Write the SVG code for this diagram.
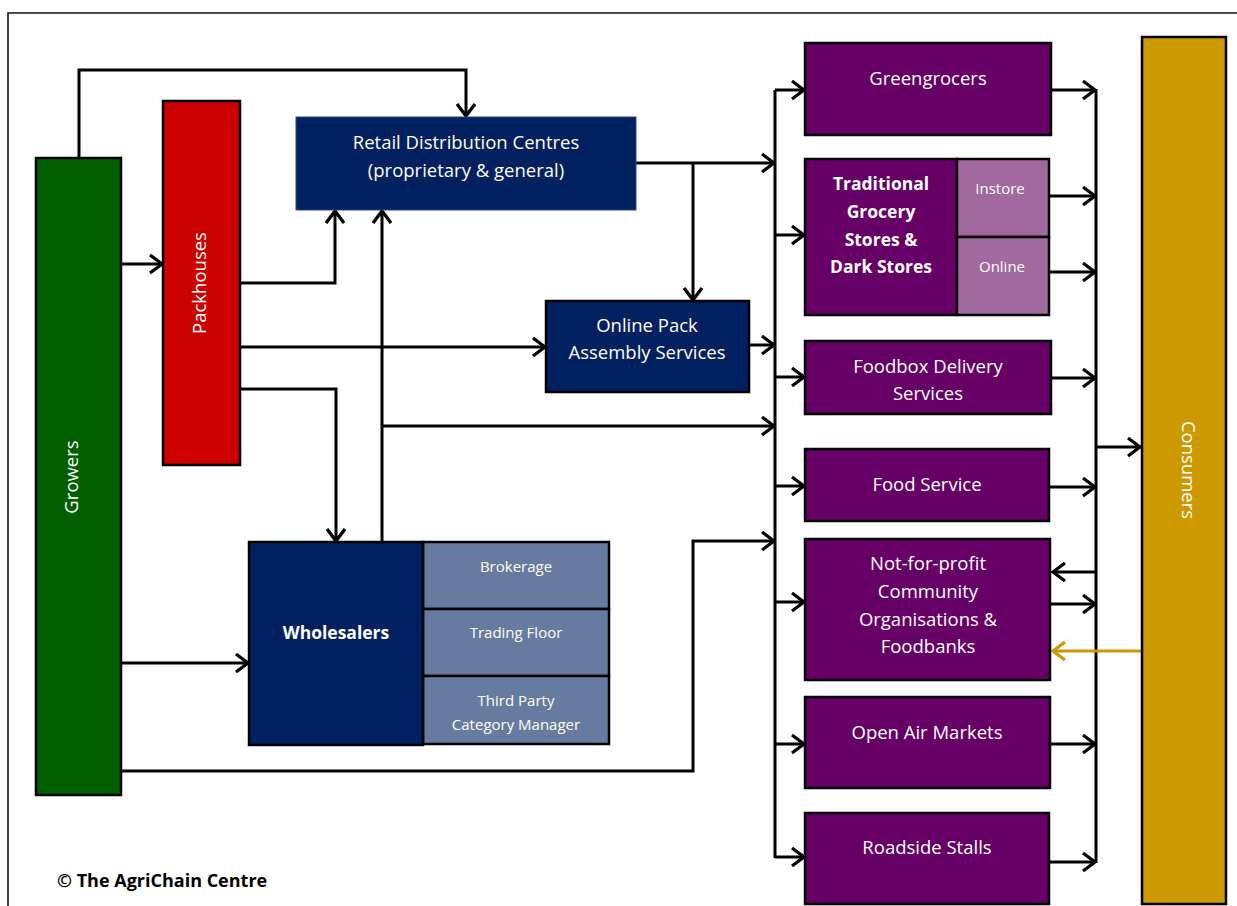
<svg xmlns="http://www.w3.org/2000/svg" width="1237" height="906" viewBox="0 0 1237 906">
<defs>
<style>
.box{stroke:#000;stroke-width:2.5}
.t{font-family:"Open Sans",Lato,"Liberation Sans",sans-serif;font-size:18.5px;fill:#fff;text-anchor:middle}
.s{font-size:15px}
.b{font-weight:bold;font-size:17.5px}
.c{fill:none;stroke:#000;stroke-width:3}
.ca{marker-end:url(#ah)}
.gold{fill:none;stroke:#CC9900;stroke-width:3;marker-end:url(#ahg)}
</style>
<marker id="ah" viewBox="-15 -12 17 24" refX="0" refY="0" markerWidth="17" markerHeight="24" markerUnits="userSpaceOnUse" orient="auto">
<path d="M-12,-9 L0,0 L-12,9" fill="none" stroke="#000" stroke-width="3.3"/>
</marker>
<marker id="ahg" viewBox="-15 -12 17 24" refX="0" refY="0" markerWidth="17" markerHeight="24" markerUnits="userSpaceOnUse" orient="auto">
<path d="M-12,-9 L0,0 L-12,9" fill="none" stroke="#CC9900" stroke-width="3.3"/>
</marker>
</defs>
<rect width="1237" height="906" fill="#fff"/>
<path d="M8,910 L8,13 L1240,13" fill="none" stroke="#111" stroke-width="1.6"/>

<g id="connectors">
<path class="c ca" d="M79,158 L79,70 L466,70 L466,116"/>
<path class="c ca" d="M121,264 L162,264"/>
<path class="c ca" d="M240,283 L335,283 L335,211"/>
<path class="c ca" d="M240,347 L545,347"/>
<path class="c ca" d="M240,389 L336,389 L336,541"/>
<path class="c ca" d="M382,542 L382,211"/>
<path class="c ca" d="M382,426 L774,426"/>
<path class="c ca" d="M636,163 L774,163"/>
<path class="c ca" d="M693,163 L693,300"/>
<path class="c ca" d="M749,345 L774,345"/>
<path class="c ca" d="M121,663 L248,663"/>
<path class="c ca" d="M121,771 L693,771 L693,541 L774,541"/>
<path class="c" d="M775,90 L775,858"/>
<path class="c ca" d="M775,90 L804,90"/>
<path class="c ca" d="M775,235 L804,235"/>
<path class="c ca" d="M775,377 L804,377"/>
<path class="c ca" d="M775,486 L804,486"/>
<path class="c ca" d="M775,602 L804,602"/>
<path class="c ca" d="M775,744 L804,744"/>
<path class="c ca" d="M775,857 L804,857"/>
<path class="c" d="M1096,89 L1096,863"/>
<path class="c ca" d="M1051,90 L1095,90"/>
<path class="c ca" d="M1049,196 L1095,196"/>
<path class="c ca" d="M1049,272 L1095,272"/>
<path class="c ca" d="M1051,378 L1095,378"/>
<path class="c ca" d="M1049,487 L1095,487"/>
<path class="c ca" d="M1096,572 L1053,572"/>
<path class="c ca" d="M1050,604 L1095,604"/>
<path class="c ca" d="M1050,744 L1095,744"/>
<path class="c ca" d="M1049,862 L1095,862"/>
<path class="c ca" d="M1096,447 L1140,447"/>
<path class="gold" d="M1141,651 L1053,651"/>
</g>

<g id="growers">
<rect class="box" x="36" y="158" width="85" height="637" fill="#005F00"/>
<text class="t" transform="translate(78,477) rotate(-90)">Growers</text>
</g>
<g id="packhouses">
<rect class="box" x="163" y="101" width="77" height="364" fill="#CC0000"/>
<text class="t" transform="translate(206,283) rotate(-90)">Packhouses</text>
</g>
<g id="retail-dc">
<rect x="296" y="117" width="340" height="93" fill="#002060" stroke="#2a4a80" stroke-width="1"/>
<text class="t" x="466" y="149">Retail Distribution Centres</text>
<text class="t" x="466" y="177">(proprietary &amp; general)</text>
</g>
<g id="online-pack">
<rect class="box" x="546" y="301" width="203" height="91" fill="#002060"/>
<text class="t" x="647" y="332">Online Pack</text>
<text class="t" x="647" y="359">Assembly Services</text>
</g>
<g id="wholesalers">
<rect class="box" x="423" y="542" width="186" height="67" fill="#677BA0"/>
<rect class="box" x="423" y="609" width="186" height="67" fill="#677BA0"/>
<rect class="box" x="423" y="676" width="186" height="68" fill="#677BA0"/>
<rect class="box" x="249" y="542" width="174" height="203" fill="#002060"/>
<text class="t b" x="336" y="639">Wholesalers</text>
<text class="t s" x="516" y="572">Brokerage</text>
<text class="t s" x="516" y="638">Trading Floor</text>
<text class="t s" x="516" y="706">Third Party</text>
<text class="t s" x="516" y="730">Category Manager</text>
</g>
<g id="greengrocers">
<rect class="box" x="805" y="43" width="246" height="92" fill="#660066"/>
<text class="t" x="928" y="85">Greengrocers</text>
</g>
<g id="traditional-grocery">
<rect class="box" x="805" y="159" width="152" height="156" fill="#660066"/>
<rect class="box" x="957" y="159" width="92" height="78" fill="#A2699F"/>
<rect class="box" x="957" y="237" width="92" height="78" fill="#A2699F"/>
<text class="t b" x="881" y="190">Traditional</text>
<text class="t b" x="881" y="218">Grocery</text>
<text class="t b" x="881" y="246">Stores &amp;</text>
<text class="t b" x="881" y="273">Dark Stores</text>
<text class="t s" x="1000" y="194">Instore</text>
<text class="t s" x="1002" y="272">Online</text>
</g>
<g id="foodbox">
<rect class="box" x="805" y="341" width="246" height="73" fill="#660066"/>
<text class="t" x="928" y="373">Foodbox Delivery</text>
<text class="t" x="928" y="400">Services</text>
</g>
<g id="food-service">
<rect class="box" x="805" y="449" width="244" height="72" fill="#660066"/>
<text class="t" x="927" y="491">Food Service</text>
</g>
<g id="not-for-profit">
<rect class="box" x="805" y="539" width="245" height="141" fill="#660066"/>
<text class="t" x="928" y="570">Not-for-profit</text>
<text class="t" x="928" y="598">Community</text>
<text class="t" x="928" y="626">Organisations &amp;</text>
<text class="t" x="928" y="653">Foodbanks</text>
</g>
<g id="open-air">
<rect class="box" x="805" y="697" width="245" height="91" fill="#660066"/>
<text class="t" x="927" y="739">Open Air Markets</text>
</g>
<g id="roadside">
<rect class="box" x="805" y="813" width="244" height="91" fill="#660066"/>
<text class="t" x="927" y="854">Roadside Stalls</text>
</g>
<g id="consumers">
<rect class="box" x="1142" y="37" width="84" height="867" fill="#CC9900"/>
<text class="t" transform="translate(1182,470) rotate(90)">Consumers</text>
</g>
<text x="57" y="887" font-family="'Open Sans',Lato,'Liberation Sans',sans-serif" font-size="18" font-weight="bold" fill="#000">© The AgriChain Centre</text>
</svg>
